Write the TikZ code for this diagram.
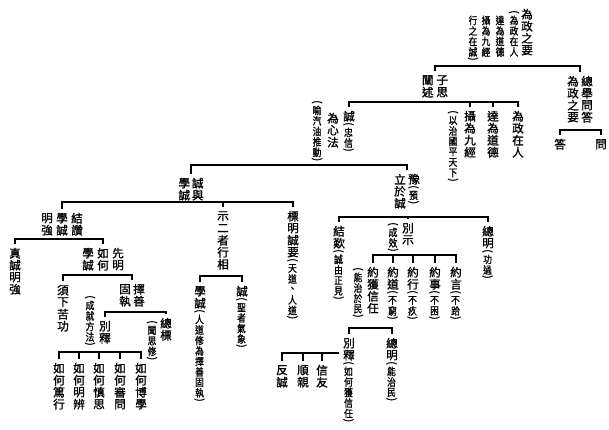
\documentclass[tikz,border=0pt]{standalone}
\usepackage{fontspec}
\usepackage{graphicx}
\setmainfont[FakeBold=1.2]{Noto Sans CJK TC}
\makeatletter
\newcommand\vtM[1]{\@tfor\vt@c:=#1\do{\vbox to 12pt{\vss\hbox to 11pt{\hss\vt@c\hss}\vss}}}
\newcommand\vtS[1]{\@tfor\vt@c:=#1\do{\vbox to 10.5pt{\vss\hbox to 10pt{\hss\scalebox{0.85}[1]{\vt@c}\hss}\vss}}}
\makeatother
\newcommand\vpO{\vbox to 5pt{\vss\hbox to 10pt{\hss\rotatebox[origin=c]{-90}{(}\hss}\vss}}
\newcommand\vpC{\vbox to 5pt{\vss\hbox to 10pt{\hss\rotatebox[origin=c]{-90}{)}\hss}\vss}}
\newcommand\maincjk{\fontsize{11.6}{12}\selectfont}
\newcommand\smallcjk{\fontsize{10.3}{10.5}\selectfont}
\newcommand\cM[1]{\vtop{\offinterlineskip\maincjk\vtM{#1}}}
\newcommand\cMS[2]{\vtop{\offinterlineskip\maincjk\vtM{#1}\smallcjk\vpO\vtS{#2}\vpC}}
\newcommand\cS[1]{\vtop{\offinterlineskip\smallcjk\vpO\vtS{#1}\vpC}}
\newcommand\cSo[1]{\vtop{\offinterlineskip\smallcjk\vpO\vtS{#1}}}
\newcommand\cSn[1]{\vtop{\offinterlineskip\smallcjk\vtS{#1}}}
\newcommand\cSc[1]{\vtop{\offinterlineskip\smallcjk\vtS{#1}\vpC}}
\tikzset{
  col/.style={inner sep=0pt, anchor=north},
  bar/.style={line width=2.4pt, line join=miter}
}
\begin{document}
\begin{tikzpicture}[x=1pt,y=-1pt]
\fill[white] (0,0) rectangle (609,430);
\useasboundingbox (0,0) rectangle (609,430);
% top
\node[col] (t0) at (527,8) {\cM{為政之要}};
\node[col] (t0a) at (514,10) {\cSo{為政在人}};
\node[col] (t0b) at (500,15) {\cSn{達為道德}};
\node[col] (t0c) at (486,15) {\cSn{攝為九經}};
\node[col] (t0d) at (473,15) {\cSc{行之在誠}};
% level 1
\node[col] (n1) at (435,74) {\cM{闡述}\hskip3.5pt\cM{子思}};
\node[col] (n2) at (580,75) {\cM{為政之要}\hskip3pt\cM{總舉問答}};
\node[col] (da) at (560,138) {\cM{答}};
\node[col] (wen) at (601,138) {\cM{問}};
% level 2
\node[col] (zy) at (518,110) {\cM{為政在人}};
\node[col] (dd) at (493,110) {\cM{達為道德}};
\node[col] (sj) at (470,110) {\cM{攝為九經}};
\node[col] (sja) at (453,110) {\cS{以治國平天下}};
\node[col] (cx) at (349,110) {\cMS{誠}{忠信}};
\node[col] (wxf) at (333,112) {\cM{為心法}};
\node[col] (yq) at (317,100) {\cS{喻汽油推動}};
% level 3
\node[col] (cy) at (191,177) {\cM{學誠}\hskip2.5pt\cM{誠與}};
\node[col] (yl) at (407,173) {\cM{立於誠}\hskip3pt\cMS{豫}{預}};
% level 4 left
\node[col] (jz) at (62,212) {\cM{明強}\hskip4pt\cM{學誠}\hskip4pt\cM{結讚}};
\node[col] (se) at (223,210) {\cM{示二者行相}};
\node[col] (bm) at (293,210) {\cMS{標明誠要}{天道、人道}};
% level 4 right
\node[col] (jt) at (339,225) {\cMS{結歎}{誠由正見}};
\node[col] (bsh) at (408,222) {\cM{別示}};
\node[col] (bsha) at (393,222) {\cS{成效}};
\node[col] (zm) at (488,225) {\cMS{總明}{功過}};
% level 5 right
\node[col] (yx) at (373,266) {\cM{約獲信任}};
\node[col] (yxa) at (358,267) {\cS{能治於民}};
\node[col] (yd) at (393,266) {\cMS{約道}{不窮}};
\node[col] (yh) at (413,266) {\cMS{約行}{不疚}};
\node[col] (ysh) at (435,266) {\cMS{約事}{不困}};
\node[col] (yy) at (456,266) {\cMS{約言}{不跲}};
\node[col] (bs2) at (349,337) {\cMS{別釋}{如何獲信任}};
\node[col] (zm2) at (392,337) {\cMS{總明}{能治民}};
\node[col] (fc) at (282,364) {\cM{反誠}};
\node[col] (sq) at (303,364) {\cM{順親}};
\node[col] (xy) at (322,364) {\cM{信友}};
% left subtree
\node[col] (zc) at (15,247) {\cM{真誠明強}};
\node[col] (xm) at (103,247) {\cM{學誠}\hskip4pt\cM{如何}\hskip4pt\cM{先明}};
\node[col] (xk) at (63,284) {\cM{須下苦功}};
\node[col] (zs) at (132,283) {\cM{固執}\hskip3pt\cM{擇善}};
\node[col] (bs1) at (105,320) {\cM{別釋}};
\node[col] (bs1a) at (90,295) {\cS{成就方法}};
\node[col] (zb) at (166,317) {\cM{總標}};
\node[col] (zba) at (152,320) {\cS{聞思修}};
\node[col] (r1) at (59,362) {\cM{如何篤行}};
\node[col] (r2) at (79,362) {\cM{如何明辨}};
\node[col] (r3) at (99,362) {\cM{如何慎思}};
\node[col] (r4) at (120,362) {\cM{如何審問}};
\node[col] (r5) at (141,362) {\cM{如何博學}};
\node[col] (xc) at (200,285) {\cMS{學誠}{人道修為擇善固執}};
\node[col] (sz) at (242,285) {\cMS{誠}{聖者氣象}};
% bar levels
\coordinate (b1) at (0,66);
\coordinate (b1b) at (0,130);
\coordinate (b2) at (0,102);
\coordinate (b3) at (0,165);
\coordinate (b4) at (0,202);
\coordinate (b5) at (0,217);
\coordinate (b6) at (0,255);
\coordinate (b7) at (0,328);
\coordinate (b8) at (0,353);
\coordinate (b9) at (0,239);
\coordinate (b10) at (0,275);
\coordinate (b11) at (0,312);
\coordinate (b12) at (0,352);
\coordinate (b13) at (0,276);
% brackets
\draw[bar] ([yshift=3pt]n1.north) -- (n1.north |- b1) -- (n2.north |- b1) -- ([yshift=3pt]n2.north);
\draw[bar] ([yshift=3pt]da.north) -- (da.north |- b1b) -- (wen.north |- b1b) -- ([yshift=3pt]wen.north);
\draw[bar] ([yshift=3pt]cx.north) -- (cx.north |- b2) -- (zy.north |- b2) -- ([yshift=3pt]zy.north);
\draw[bar] ([yshift=3pt]sj.north) -- (sj.north |- b2);
\draw[bar] ([yshift=3pt]dd.north) -- (dd.north |- b2);
\draw[bar] ([yshift=3pt]cy.north) -- (cy.north |- b3) -- (yl.north |- b3) -- ([yshift=3pt]yl.north);
\draw[bar] ([yshift=3pt]jz.north) -- (jz.north |- b4) -- (bm.north |- b4) -- ([yshift=3pt]bm.north);
\draw[bar] ([yshift=3pt]se.north) -- (se.north |- b4);
\draw[bar] ([yshift=3pt]jt.north) -- (jt.north |- b5) -- (zm.north |- b5) -- ([yshift=3pt]zm.north);
\draw[bar] ([yshift=3pt]bsh.north) -- (bsh.north |- b5);
\draw[bar] ([yshift=3pt]yx.north) -- (yx.north |- b6) -- (yy.north |- b6) -- ([yshift=3pt]yy.north);
\draw[bar] ([yshift=3pt]yd.north) -- (yd.north |- b6);
\draw[bar] ([yshift=3pt]yh.north) -- (yh.north |- b6);
\draw[bar] ([yshift=3pt]ysh.north) -- (ysh.north |- b6);
\draw[bar] ([yshift=3pt]bs2.north) -- (bs2.north |- b7) -- (zm2.north |- b7) -- ([yshift=3pt]zm2.north);
\draw[bar] ([xshift=-4pt]bs2.west |- b8) -- (fc.north |- b8) -- ([yshift=3pt]fc.north);
\draw[bar] ([yshift=3pt]sq.north) -- (sq.north |- b8);
\draw[bar] ([yshift=3pt]xy.north) -- (xy.north |- b8);
\draw[bar] ([yshift=3pt]zc.north) -- (zc.north |- b9) -- (xm.north |- b9) -- ([yshift=3pt]xm.north);
\draw[bar] ([yshift=3pt]xk.north) -- (xk.north |- b10) -- (zs.north |- b10) -- ([yshift=3pt]zs.north);
\draw[bar] ([yshift=3pt]bs1.north) -- (bs1.north |- b11) -- (zb.north |- b11) -- ([yshift=3pt]zb.north);
\draw[bar] ([yshift=3pt]r1.north) -- (r1.north |- b12) -- (r5.north |- b12) -- ([yshift=3pt]r5.north);
\draw[bar] ([yshift=3pt]r2.north) -- (r2.north |- b12);
\draw[bar] ([yshift=3pt]r3.north) -- (r3.north |- b12);
\draw[bar] ([yshift=3pt]r4.north) -- (r4.north |- b12);
\draw[bar] ([yshift=3pt]xc.north) -- (xc.north |- b13) -- (sz.north |- b13) -- ([yshift=3pt]sz.north);
\end{tikzpicture}
\end{document}
